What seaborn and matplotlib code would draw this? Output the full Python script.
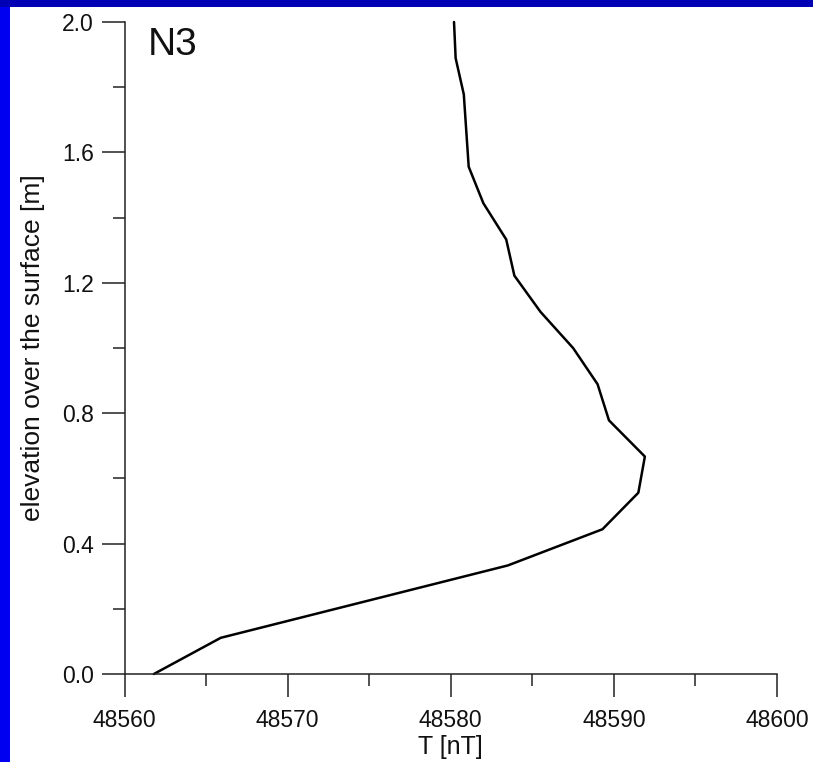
import matplotlib
matplotlib.use("Agg")
import matplotlib.pyplot as plt
import seaborn as sns
import pandas as pd
from matplotlib.ticker import MultipleLocator
from matplotlib.patches import Rectangle

elevation = [0.0, 0.111, 0.222, 0.333, 0.444, 0.556, 0.667, 0.778, 0.889, 1.0,
             1.111, 1.222, 1.333, 1.444, 1.556, 1.667, 1.778, 1.889, 2.0]
field_nT = [48561.8, 48565.9, 48574.7, 48583.5, 48589.3, 48591.5, 48591.9, 48589.7,
            48589.0, 48587.5, 48585.5, 48583.9, 48583.4, 48582.0, 48581.1, 48580.95,
            48580.8, 48580.3, 48580.2]
x_ticks = [48560, 48570, 48580, 48590, 48600]
y_ticks = [0.0, 0.4, 0.8, 1.2, 1.6, 2.0]
panel_label = "N3"

sns.set_style("white")
plt.rcParams['font.family'] = ['Liberation Sans', 'DejaVu Sans']

df = pd.DataFrame({"T": field_nT, "elev": elevation})

fig = plt.figure(figsize=(8.13, 7.62), dpi=100, facecolor="white")
W, H = 813, 762
# blue frame strips
fig.patches.append(Rectangle((0, 1 - 7 / H), 1, 7 / H, transform=fig.transFigure,
                             facecolor="#0000b4", edgecolor="none", zorder=0))
fig.patches.append(Rectangle((0, 0), 10 / W, 1 - 7 / H, transform=fig.transFigure,
                             facecolor="#0000f0", edgecolor="none", zorder=0))

ax = fig.add_axes([124.5 / W, (H - 674) / H, 652.5 / W, 652 / H])
ax.set_facecolor("white")
sns.lineplot(data=df, x="T", y="elev", sort=False, estimator=None, color="black",
             linewidth=1.8, ax=ax)

ax.set_xlim(48560, 48600)
ax.set_ylim(0, 2.0)
ax.set_xticks(x_ticks)
ax.set_yticks(y_ticks)
ax.set_xticklabels([str(v) for v in x_ticks])
ax.set_yticklabels([f"{v:.1f}" for v in y_ticks])
ax.xaxis.set_minor_locator(MultipleLocator(5))
ax.yaxis.set_minor_locator(MultipleLocator(0.2))

for s in ["top", "right"]:
    ax.spines[s].set_visible(False)
for s in ["left", "bottom"]:
    ax.spines[s].set_color("#222222")
    ax.spines[s].set_linewidth(1.1)

ax.tick_params(axis="both", which="both", bottom=True, left=True, top=False, right=False)
ax.tick_params(axis="both", which="major", direction="out", length=16.5, width=1.1,
               color="#222222", labelsize=16.5, labelcolor="#111111")
ax.tick_params(axis="both", which="minor", direction="out", length=8.5, width=1.1,
               color="#222222")
ax.tick_params(axis="y", which="major", pad=5.5)
ax.tick_params(axis="x", which="major", pad=9)

ax.set_xlabel("T [nT]", fontsize=18, color="#111111", labelpad=2)
ax.set_ylabel("elevation over the surface [m]", fontsize=19, color="#111111", labelpad=12)

ax.text(48561.45, 1.93, panel_label, fontsize=28, color="#111111", ha="left", va="center")

for line in ax.lines:
    line.set_clip_on(False)
    line.set_solid_joinstyle("round")

fig.savefig("out.png", dpi=100, facecolor="white")
